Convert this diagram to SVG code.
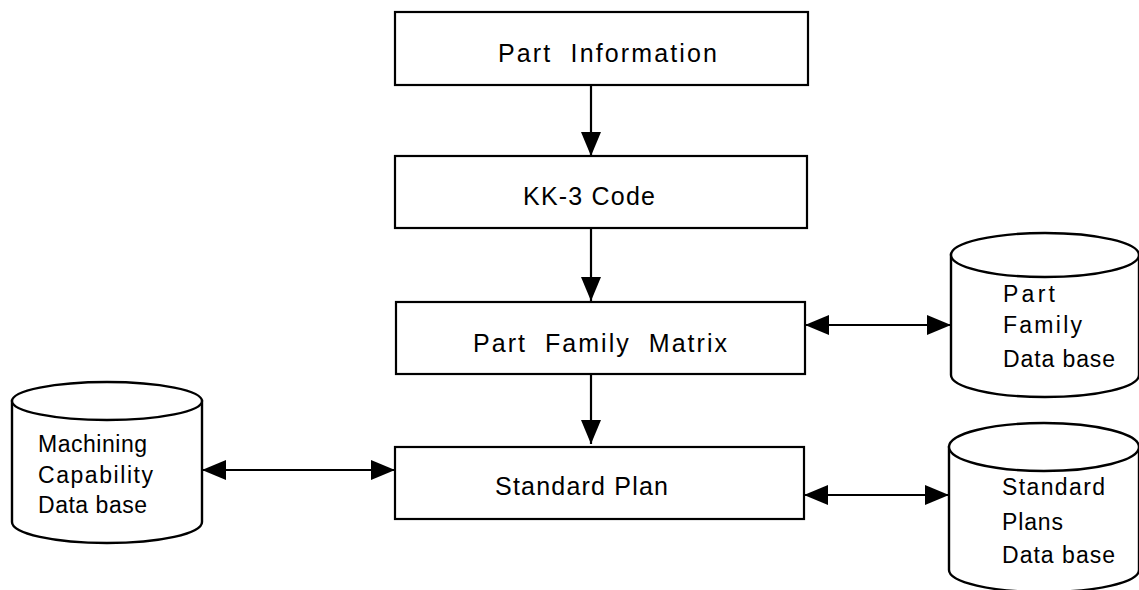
<svg xmlns="http://www.w3.org/2000/svg" width="1139" height="590" viewBox="0 0 1139 590">
<style>
.box{fill:#fff;stroke:#000;stroke-width:2.2}
.db{fill:#fff;stroke:#000;stroke-width:2.4}
.lbl{font-family:"Liberation Sans",Arial,sans-serif;font-size:25px;fill:#000}
.dbl{font-family:"Liberation Sans",Arial,sans-serif;font-size:23px;fill:#000}
.c{fill:none;stroke:#000;stroke-width:2.2}
</style>
<defs>
<marker id="ah" markerUnits="userSpaceOnUse" viewBox="0 0 24 20" refX="24" refY="10" markerWidth="24" markerHeight="20" orient="auto-start-reverse">
<path d="M0,0 L24,10 L0,20 Z" fill="#000"/>
</marker>
</defs>
<rect width="1139" height="590" fill="#fff"/>
<g id="connectors">
<line class="c" x1="591" y1="85" x2="591" y2="156" marker-end="url(#ah)"/>
<line class="c" x1="591" y1="228" x2="591" y2="301" marker-end="url(#ah)"/>
<line class="c" x1="591" y1="374" x2="591" y2="444" marker-end="url(#ah)"/>
<line class="c" x1="202" y1="470" x2="395" y2="470" marker-start="url(#ah)" marker-end="url(#ah)"/>
<line class="c" x1="805" y1="325" x2="951" y2="325" marker-start="url(#ah)" marker-end="url(#ah)"/>
<line class="c" x1="804" y1="495" x2="949" y2="495" marker-start="url(#ah)" marker-end="url(#ah)"/>
</g>
<g id="part-information">
<rect class="box" x="395" y="12" width="413" height="73"/>
<text class="lbl" x="498" y="62" textLength="219" lengthAdjust="spacing" xml:space="preserve">Part  Information</text>
</g>
<g id="kk3-code">
<rect class="box" x="395" y="156" width="412" height="72"/>
<text class="lbl" x="523" y="205" textLength="132" lengthAdjust="spacing">KK-3 Code</text>
</g>
<g id="part-family-matrix">
<rect class="box" x="396" y="302" width="409" height="72"/>
<text class="lbl" x="473" y="352" textLength="254" lengthAdjust="spacing" xml:space="preserve">Part  Family  Matrix</text>
</g>
<g id="standard-plan">
<rect class="box" x="395" y="447" width="409" height="72"/>
<text class="lbl" x="495" y="495" textLength="173" lengthAdjust="spacing">Standard Plan</text>
</g>
<g id="machining-db">
<path class="db" d="M12,401 L12,522 A95,21 0 0 0 202,522 L202,401 Z"/>
<ellipse class="db" cx="107" cy="401" rx="95" ry="19"/>
<text class="dbl" x="38" y="452" textLength="109" lengthAdjust="spacing">Machining</text>
<text class="dbl" x="38" y="483" textLength="115" lengthAdjust="spacing">Capability</text>
<text class="dbl" x="38" y="513" textLength="109" lengthAdjust="spacing">Data base</text>
</g>
<g id="part-family-db">
<path class="db" d="M951,255 L951,375 A94,22 0 0 0 1139,375 L1139,255 Z"/>
<ellipse class="db" cx="1045" cy="255" rx="94" ry="22"/>
<text class="dbl" x="1003" y="302" textLength="52" lengthAdjust="spacing">Part</text>
<text class="dbl" x="1003" y="333" textLength="79" lengthAdjust="spacing">Family</text>
<text class="dbl" x="1003" y="367" textLength="112" lengthAdjust="spacing">Data base</text>
</g>
<g id="standard-plans-db">
<path class="db" d="M949,447 L949,570 A95,22 0 0 0 1139,570 L1139,447 Z"/>
<ellipse class="db" cx="1044" cy="447" rx="95" ry="24"/>
<text class="dbl" x="1002" y="495" textLength="103" lengthAdjust="spacing">Standard</text>
<text class="dbl" x="1002" y="530" textLength="61" lengthAdjust="spacing">Plans</text>
<text class="dbl" x="1002" y="563" textLength="113" lengthAdjust="spacing">Data base</text>
</g>
</svg>
